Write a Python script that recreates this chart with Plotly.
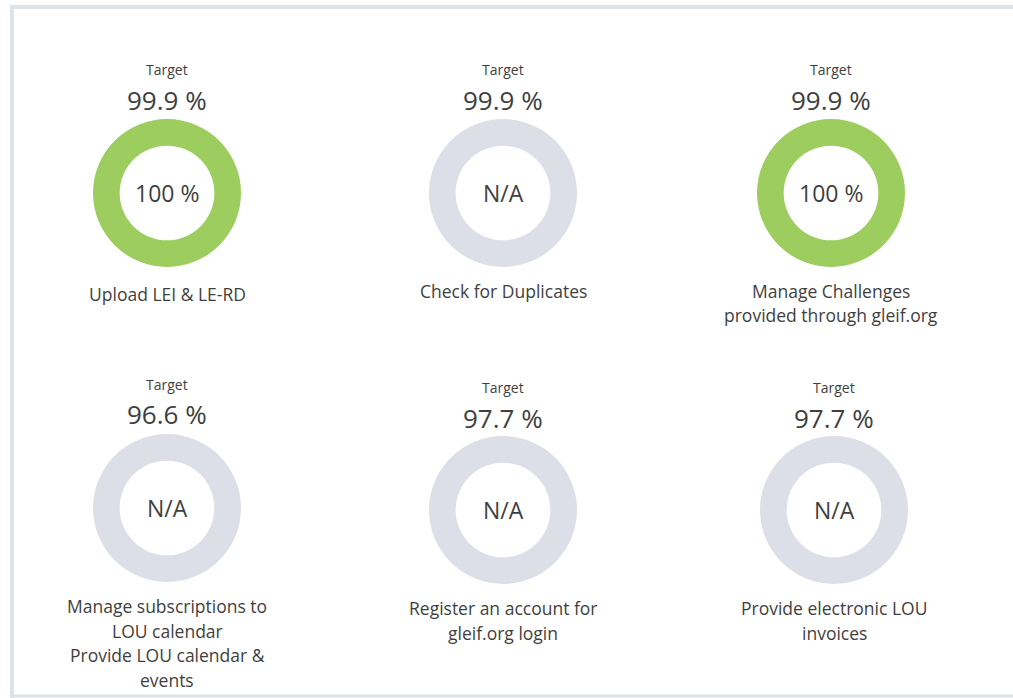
import plotly.graph_objects as go

W, H = 1013, 698

# ---- data ----
labels = [
    "Upload LEI & LE-RD",
    "Check for Duplicates",
    "Manage Challenges<br>provided through gleif.org",
    "Manage subscriptions to<br>LOU calendar<br>Provide LOU calendar &<br>events",
    "Register an account for<br>gleif.org login",
    "Provide electronic LOU<br>invoices",
]
targets = [99.9, 99.9, 99.9, 96.6, 97.7, 97.7]
actuals = [100, None, 100, None, None, None]

# ---- layout (pixels) ----
centers = [(167, 193), (503, 193), (831, 193), (167, 508), (503, 510), (834, 510)]
target_word_y = [69, 69, 69, 384, 387, 387]
target_val_y = [100, 100, 100, 414, 418, 418]
label_first_y = [294, 291, 291, 606, 608, 608]
LINE_STEP = 24.5
R = 74
GREEN = "#9dcc5f"
GRAY = "#dcdfe7"
TXT = "#3f3f3f"
FONT = "Open Sans"


def px(x):
    return x / W


def py(y):
    return 1 - y / H


fig = go.Figure()
ann = []
for i, (cx, cy) in enumerate(centers):
    a = actuals[i]
    if a is None:
        vals, cols, centre = [1], [GRAY], "N/A"
    else:
        vals, cols, centre = [a, 100 - a], [GREEN, GRAY], f"{a:g} %"
    fig.add_trace(go.Pie(
        values=vals,
        marker=dict(colors=cols, line=dict(width=0)),
        hole=0.64,
        sort=False,
        direction="clockwise",
        textinfo="none",
        hoverinfo="skip",
        showlegend=False,
        domain=dict(x=[px(cx - R), px(cx + R)], y=[py(cy + R), py(cy - R)]),
    ))
    ann.append(dict(x=px(cx), y=py(target_word_y[i]), text="Target",
                    font=dict(size=14, color=TXT, family=FONT)))
    ann.append(dict(x=px(cx), y=py(target_val_y[i]), text=f"{targets[i]:.1f} %",
                    font=dict(size=26, color=TXT, family=FONT)))
    ann.append(dict(x=px(cx), y=py(cy), text=centre,
                    font=dict(size=23, color=TXT, family=FONT)))
    for k, line in enumerate(labels[i].split("<br>")):
        ann.append(dict(x=px(cx), y=py(label_first_y[i] + k * LINE_STEP), text=line,
                        font=dict(size=17.5, color=TXT, family=FONT)))

for a in ann:
    a.update(xref="paper", yref="paper", showarrow=False, xanchor="center", yanchor="middle")

border = "#dfe1e8"
shapes = [
    dict(type="line", xref="paper", yref="paper", x0=px(10), x1=1, y0=py(7), y1=py(7),
         line=dict(color=border, width=4)),
    dict(type="line", xref="paper", yref="paper", x0=px(12), x1=px(12), y0=py(5), y1=0,
         line=dict(color=border, width=4)),
    dict(type="line", xref="paper", yref="paper", x0=px(10), x1=1, y0=py(696), y1=py(696),
         line=dict(color=border, width=3)),
]

fig.update_layout(
    width=W, height=H,
    margin=dict(l=0, r=0, t=0, b=0),
    paper_bgcolor="white", plot_bgcolor="white",
    annotations=ann, shapes=shapes,
)
fig.write_html("out.html")
